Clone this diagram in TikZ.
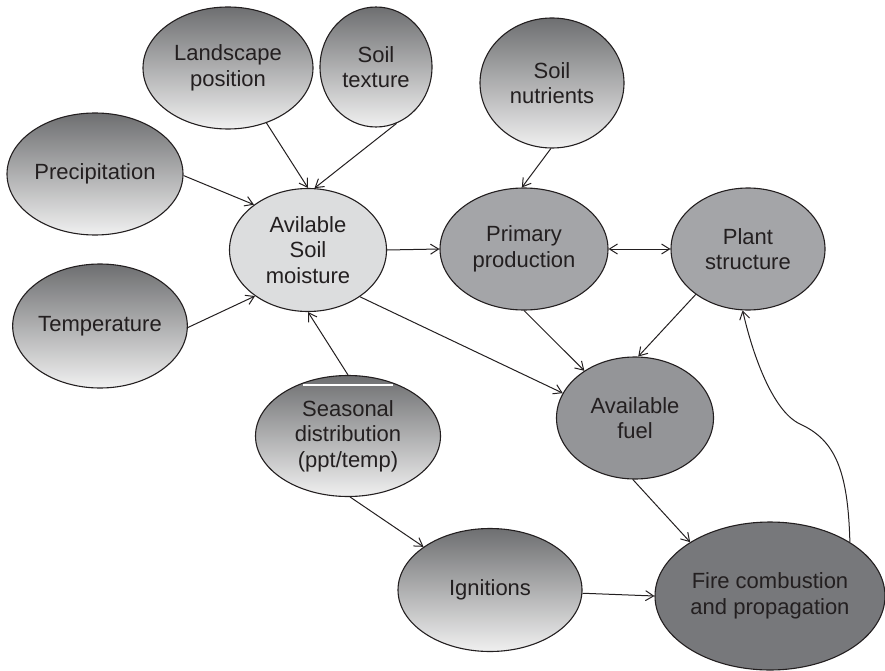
\documentclass[tikz,border=0pt]{standalone}
\usepackage{fontspec}
\setmainfont{Liberation Sans}
\usetikzlibrary{shapes.geometric,arrows.meta}
\definecolor{ink}{HTML}{231F20}
\definecolor{gradtop}{HTML}{6E6F71}
\definecolor{gradbot}{HTML}{F0F0F0}
\definecolor{asmfill}{HTML}{DCDDDE}
\definecolor{midfill}{HTML}{A4A5A8}
\definecolor{fuelfill}{HTML}{949598}
\definecolor{firefill}{HTML}{77787B}
\begin{document}
\begin{tikzpicture}[x=1pt,y=-1pt,
  >={Straight Barb[length=8pt,width=10pt]},
  bubble/.style={ellipse, draw=ink, line width=1.1pt, inner sep=0pt,
    align=center, text=ink, font=\fontsize{22}{25.5}\selectfont},
  shaded/.style={bubble, top color=gradtop, bottom color=gradbot},
  flat/.style={bubble, fill=#1},
  dims/.style 2 args={minimum width=#1, minimum height=#2},
  link/.style={draw=ink, line width=1pt, ->},
  duallink/.style={draw=ink, line width=1pt, <->},
]
\useasboundingbox (0,0) rectangle (885,671);

% drivers
\node[shaded, dims={170}{122}] (land) at (228,68) {Landscape\\position};
\node[shaded, dims={112}{120}] (tex) at (376,67) {Soil\\texture};
\node[shaded, dims={144}{130}] (nut) at (552,83) {Soil\\nutrients};
\node[shaded, dims={176}{122}] (prec) at (95,174) {Precipitation};
\node[shaded, dims={170}{124}] (temp) at (100,326) {Temperature};
\node[shaded, dims={185}{121}] (seas) at (348,436) {Seasonal\\distribution\\(ppt/temp)};
\node[shaded, dims={184}{123}] (ign) at (490,590) {Ignitions};

% intermediate states
\node[flat=asmfill, dims={157}{123}] (asm) at (308,250) {Avilable\\Soil\\moisture};
\node[flat=midfill, dims={168}{122}] (prim) at (524,249) {Primary\\production};
\node[flat=midfill, dims={154}{122}] (plant) at (748,249) {Plant\\structure};
\node[flat=fuelfill, dims={157}{122}] (fuel) at (635,418) {Available\\fuel};
\node[flat=firefill, dims={230}{148}] (fire) at (770,596) {Fire combustion\\and propagation};

% thin light stroke across the top of the seasonal bubble
\draw[white, line width=1.3pt] (303,385) -- (393,385);

% influences
\draw[link] (land.-55) -- (asm.90);
\draw[link] (tex.-70) -- (asm.84);
\draw[link] (prec.-1) -- (asm.140);
\draw[link] (temp.-1) -- (asm.-139);
\draw[link] (seas.north) -- (asm.south);
\draw[link] (asm.east) -- (prim.west);
\draw[link] (nut.-91) -- (prim.92);
\draw[duallink] (prim.east) -- (plant.west);
\draw[link] (asm.-42) -- (fuel.161);
\draw[link] (prim.south) -- (fuel.137);
\draw[link] (plant.-139) -- (fuel.87);
\draw[link] (seas.-88) -- (ign.147);
\draw[link] (fuel.-92) -- (fire.146.5);
\draw[link] (ign.-2) -- (fire.west);
\draw[link] (fire.34) .. controls (848,470) and (835,440) .. (800,424)
  .. controls (772,411) and (752,352) .. (plant.-95);
\end{tikzpicture}
\end{document}
